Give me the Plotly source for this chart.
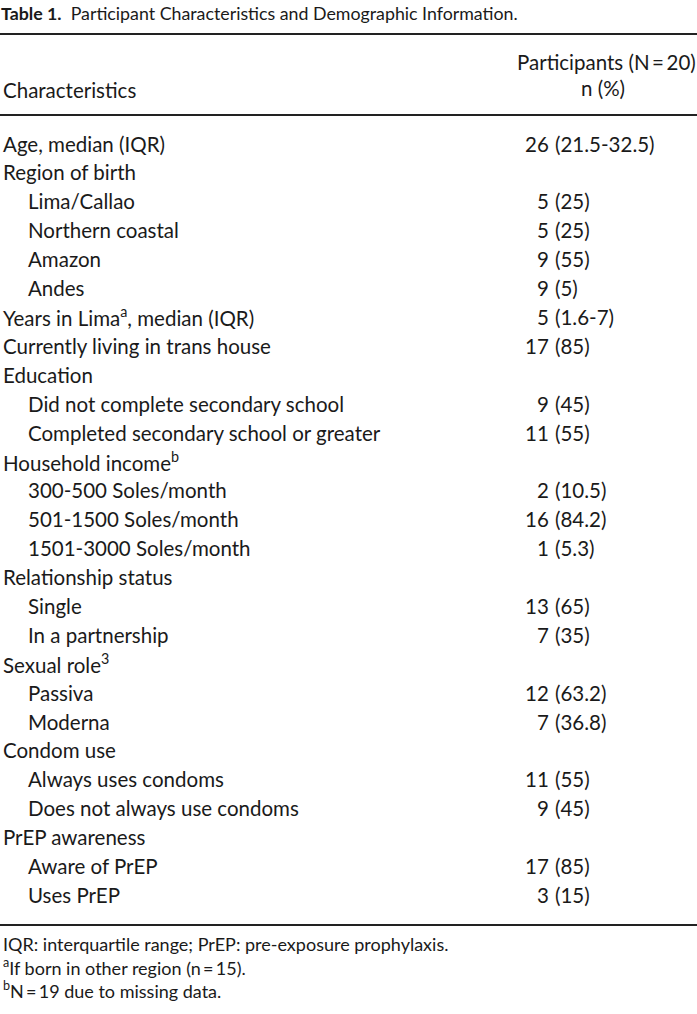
import plotly.graph_objects as go

W, H = 697, 1014

title_bold = "Table 1."
title_rest = "Participant Characteristics and Demographic Information."
header_left = "Characteristics"
header_right_1 = "Participants (N\u2009=\u200920)"
header_right_2 = "n (%)"

labels = [
    "Age, median (IQR)",
    "Region of birth",
    "Lima/Callao",
    "Northern coastal",
    "Amazon",
    "Andes",
    "Years in Lima<sup>a</sup>, median (IQR)",
    "Currently living in trans house",
    "Education",
    "Did not complete secondary school",
    "Completed secondary school or greater",
    "Household income<sup>b</sup>",
    "300-500 Soles/month",
    "501-1500 Soles/month",
    "1501-3000 Soles/month",
    "Relationship status",
    "Single",
    "In a partnership",
    "Sexual role<sup>3</sup>",
    "Passiva",
    "Moderna",
    "Condom use",
    "Always uses condoms",
    "Does not always use condoms",
    "PrEP awareness",
    "Aware of PrEP",
    "Uses PrEP",
]
levels = [0, 0, 1, 1, 1, 1, 0, 0, 0, 1, 1, 0, 1, 1, 1, 0, 1, 1, 0, 1, 1, 0, 1, 1, 0, 1, 1]
counts = ["26", "", "5", "5", "9", "9", "5", "17", "", "9", "11", "", "2", "16", "1",
          "", "13", "7", "", "12", "7", "", "11", "9", "", "17", "3"]
percents = ["(21.5-32.5)", "", "(25)", "(25)", "(55)", "(5)", "(1.6-7)", "(85)", "",
            "(45)", "(55)", "", "(10.5)", "(84.2)", "(5.3)", "", "(65)", "(35)", "",
            "(63.2)", "(36.8)", "", "(55)", "(45)", "", "(85)", "(15)"]
footnotes = [
    "IQR: interquartile range; PrEP: pre-exposure prophylaxis.",
    "<sup>a</sup>If born in other region (n\u2009=\u200915).",
    "<sup>b</sup>N\u2009=\u200919 due to missing data.",
]

FONT = "Lato, 'Open Sans', sans-serif"
COLOR = "#1a1a1a"
FS = 20.5

row0, pitch = 143.5, 28.9
x_left, x_indent = 2, 25
x_count, x_pct = 550, 554

fig = go.Figure()
ann = []

def add(text, x, y, anchor="left", size=FS):
    ann.append(dict(text=text, x=x, y=y, xref="x", yref="y", xanchor=anchor,
                    yanchor="middle", showarrow=False, borderpad=0,
                    font=dict(family=FONT, size=size, color=COLOR)))

add(f"<b>{title_bold}</b>  {title_rest}", 0, 13, size=17.8)
add(header_right_1, W, 62, anchor="right")
add(header_right_2, 603, 88, anchor="center")
add(header_left, x_left, 90)

for i, lab in enumerate(labels):
    y = row0 + i * pitch
    add(lab, x_left + levels[i] * x_indent, y)
    if counts[i]:
        add(counts[i], x_count, y, anchor="right")
        add(percents[i], x_pct, y, anchor="left")

foot_y0, foot_pitch = 944, 23
for j, t in enumerate(footnotes):
    add(t, x_left, foot_y0 + j * foot_pitch, size=18)

shapes = []
for yy in [34, 115, 925]:
    shapes.append(dict(type="line", xref="x", yref="y", x0=0, x1=W, y0=yy, y1=yy,
                       line=dict(color="#222222", width=1.8)))

fig.update_layout(
    width=W, height=H, margin=dict(l=0, r=0, t=0, b=0),
    paper_bgcolor="white", plot_bgcolor="white",
    xaxis=dict(range=[0, W], visible=False, fixedrange=True),
    yaxis=dict(range=[H, 0], visible=False, fixedrange=True),
    annotations=ann, shapes=shapes, showlegend=False,
)
fig.write_html("out.html", config={"displayModeBar": False},
               post_script="document.body.style.margin='0';document.body.style.overflow='hidden';")
